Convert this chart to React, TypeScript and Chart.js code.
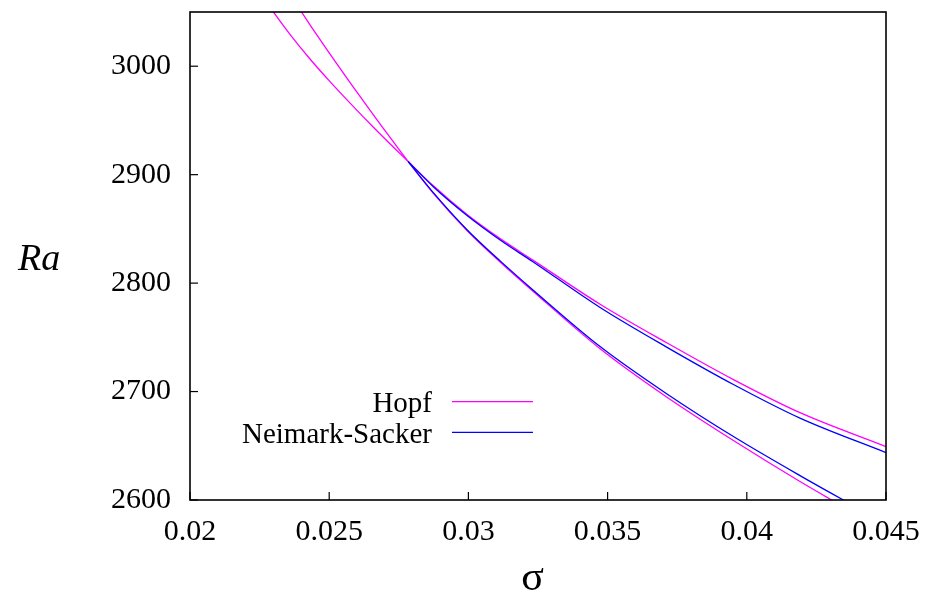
import React, { useEffect, useRef } from 'react';
import { Chart, registerables } from 'chart.js';

Chart.register(...registerables);

// Hopf branch A (upper-left shallow branch continuing to the upper-right branch)
const hopfAX = [0.02273, 0.02302, 0.02359, 0.02431, 0.02503, 0.02575, 0.02665, 0.02729, 0.02784, 0.02874, 0.02994, 0.03114, 0.03233, 0.03473, 0.03712, 0.03952, 0.04191, 0.045];
const hopfAY = [3059.8, 3049.1, 3029.4, 3006.7, 2985.8, 2966.0, 2942.1, 2925.8, 2912.0, 2889.7, 2863.5, 2841.0, 2821.0, 2780.5, 2745.0, 2711.0, 2680.5, 2649.2];

// Hopf branch B (upper-left steep branch continuing to the lower-right branch)
const hopfBX = [0.02373, 0.02398, 0.02437, 0.02503, 0.02575, 0.02647, 0.02689, 0.02736, 0.02784, 0.02874, 0.02994, 0.03114, 0.03233, 0.03473, 0.03712, 0.03952, 0.04191, 0.04305, 0.04371];
const hopfBY = [3061.0, 3051.0, 3035.9, 3011.1, 2984.8, 2959.2, 2944.5, 2928.3, 2912.0, 2882.8, 2848.8, 2819.5, 2792.3, 2739.5, 2695.0, 2654.8, 2617.0, 2600.0, 2590.4];

// Neimark-Sacker upper branch
const nsUpperX = [0.02784, 0.02874, 0.02994, 0.03114, 0.03233, 0.03473, 0.03712, 0.03952, 0.04191, 0.045];
const nsUpperY = [2912.0, 2888.9, 2862.6, 2839.8, 2819.5, 2777.5, 2741.0, 2706.5, 2675.5, 2643.7];

// Neimark-Sacker lower branch
const nsLowerX = [0.02784, 0.02874, 0.02994, 0.03114, 0.03233, 0.03473, 0.03712, 0.03952, 0.04191, 0.04347, 0.04407];
const nsLowerY = [2912.0, 2883.4, 2849.5, 2820.5, 2793.5, 2741.5, 2698.0, 2658.5, 2622.5, 2600.0, 2591.6];

const xTickValues = [0.02, 0.025, 0.03, 0.035, 0.04, 0.045];
const xTickLabels = ['0.02', '0.025', '0.03', '0.035', '0.04', '0.045'];
const yTickValues = [2600, 2700, 2800, 2900, 3000];
const yTickLabels = ['2600', '2700', '2800', '2900', '3000'];

const xTitle = 'σ';
const yTitle = 'Ra';

const toPoints = (xs: number[], ys: number[]) => xs.map((x, i) => ({ x, y: ys[i] }));

const SERIF = "'Liberation Serif', 'Times New Roman', serif";

const decorPlugin = {
  id: 'decor',
  afterDatasetsDraw(chart: any) {
    const { ctx, chartArea: a, scales } = chart;
    ctx.save();
    // frame
    ctx.strokeStyle = '#000';
    ctx.lineWidth = 1.6;
    ctx.strokeRect(a.left, a.top, a.right - a.left, a.bottom - a.top);
    // inward tick marks
    ctx.lineWidth = 1.2;
    scales.x.ticks.forEach((t: any) => {
      const px = scales.x.getPixelForValue(t.value);
      ctx.beginPath();
      ctx.moveTo(px, a.bottom);
      ctx.lineTo(px, a.bottom - 8);
      ctx.stroke();
    });
    scales.y.ticks.forEach((t: any) => {
      const py = scales.y.getPixelForValue(t.value);
      ctx.beginPath();
      ctx.moveTo(a.left, py);
      ctx.lineTo(a.left + 8, py);
      ctx.stroke();
    });
    // legend (built from datasets)
    const seen: string[] = [];
    const items: { label: string; color: string }[] = [];
    chart.data.datasets.forEach((ds: any) => {
      if (ds.label && !seen.includes(ds.label)) {
        seen.push(ds.label);
        items.push({ label: ds.label, color: ds.borderColor });
      }
    });
    items.sort((p, q) => (p.label === 'Hopf' ? -1 : q.label === 'Hopf' ? 1 : 0));
    ctx.font = `29px ${SERIF}`;
    ctx.textAlign = 'right';
    ctx.textBaseline = 'alphabetic';
    items.forEach((it, i) => {
      const ly = a.top + 389.7 + i * 30.6;
      ctx.fillStyle = '#000';
      ctx.fillText(it.label, a.left + 242, ly + 10.6);
      ctx.strokeStyle = it.color;
      ctx.lineWidth = 1.3;
      ctx.beginPath();
      ctx.moveTo(a.left + 262, ly);
      ctx.lineTo(a.left + 343, ly);
      ctx.stroke();
    });
    // axis titles
    ctx.fillStyle = '#000';
    ctx.font = `italic 38px ${SERIF}`;
    ctx.textAlign = 'left';
    ctx.fillText(yTitle, 18, 270);
    ctx.font = `42px ${SERIF}`;
    ctx.textAlign = 'center';
    ctx.fillText(xTitle, 532.5, 590);
    ctx.restore();
  },
};

const zeroPadding = (scale: any) => {
  scale.paddingLeft = 0;
  scale.paddingRight = 0;
  scale.paddingTop = 0;
  scale.paddingBottom = 0;
};

export default function App() {
  const ref = useRef<HTMLCanvasElement | null>(null);

  useEffect(() => {
    if (!ref.current) return;
    const magenta = '#ff00ff';
    const blue = '#0000ff';
    const common = {
      pointRadius: 0,
      borderWidth: 1.3,
      fill: false,
      cubicInterpolationMode: 'monotone' as const,
    };
    const chart = new Chart(ref.current, {
      type: 'line',
      data: {
        datasets: [
          { ...common, label: 'Neimark-Sacker', data: toPoints(nsUpperX, nsUpperY), borderColor: blue, order: 0 },
          { ...common, label: 'Neimark-Sacker', data: toPoints(nsLowerX, nsLowerY), borderColor: blue, order: 0 },
          { ...common, label: 'Hopf', data: toPoints(hopfAX, hopfAY), borderColor: magenta, order: 1 },
          { ...common, label: 'Hopf', data: toPoints(hopfBX, hopfBY), borderColor: magenta, order: 1 },
        ],
      },
      options: {
        animation: false,
        responsive: false,
        layout: { padding: { left: 0, top: 12, right: 42, bottom: 0 } },
        plugins: {
          legend: { display: false },
          tooltip: { enabled: false },
        },
        scales: {
          x: {
            type: 'linear',
            min: 0.02,
            max: 0.045,
            grid: { display: false, drawTicks: false },
            border: { display: false },
            afterBuildTicks: (scale: any) => {
              scale.ticks = xTickValues.map((v) => ({ value: v }));
            },
            afterFit: (scale: any) => {
              scale.height = 95;
              zeroPadding(scale);
            },
            ticks: {
              autoSkip: false,
              maxRotation: 0,
              padding: 14,
              color: '#000',
              font: { family: SERIF, size: 30 },
              callback: (_v: any, i: number) => xTickLabels[i],
            },
          },
          y: {
            type: 'linear',
            min: 2600,
            max: 3050,
            grid: { display: false, drawTicks: false },
            border: { display: false },
            afterBuildTicks: (scale: any) => {
              scale.ticks = yTickValues.map((v) => ({ value: v }));
            },
            afterFit: (scale: any) => {
              scale.width = 190;
              zeroPadding(scale);
            },
            ticks: {
              autoSkip: false,
              padding: 19,
              color: '#000',
              font: { family: SERIF, size: 30 },
              callback: (_v: any, i: number) => yTickLabels[i],
            },
          },
        },
      },
      plugins: [decorPlugin],
    });
    return () => chart.destroy();
  }, []);

  return (
    <div style={{ position: 'fixed', left: 0, top: 0, width: 928, height: 595, background: '#fff' }}>
      <canvas ref={ref} width={928} height={595} style={{ display: 'block' }} />
    </div>
  );
}
